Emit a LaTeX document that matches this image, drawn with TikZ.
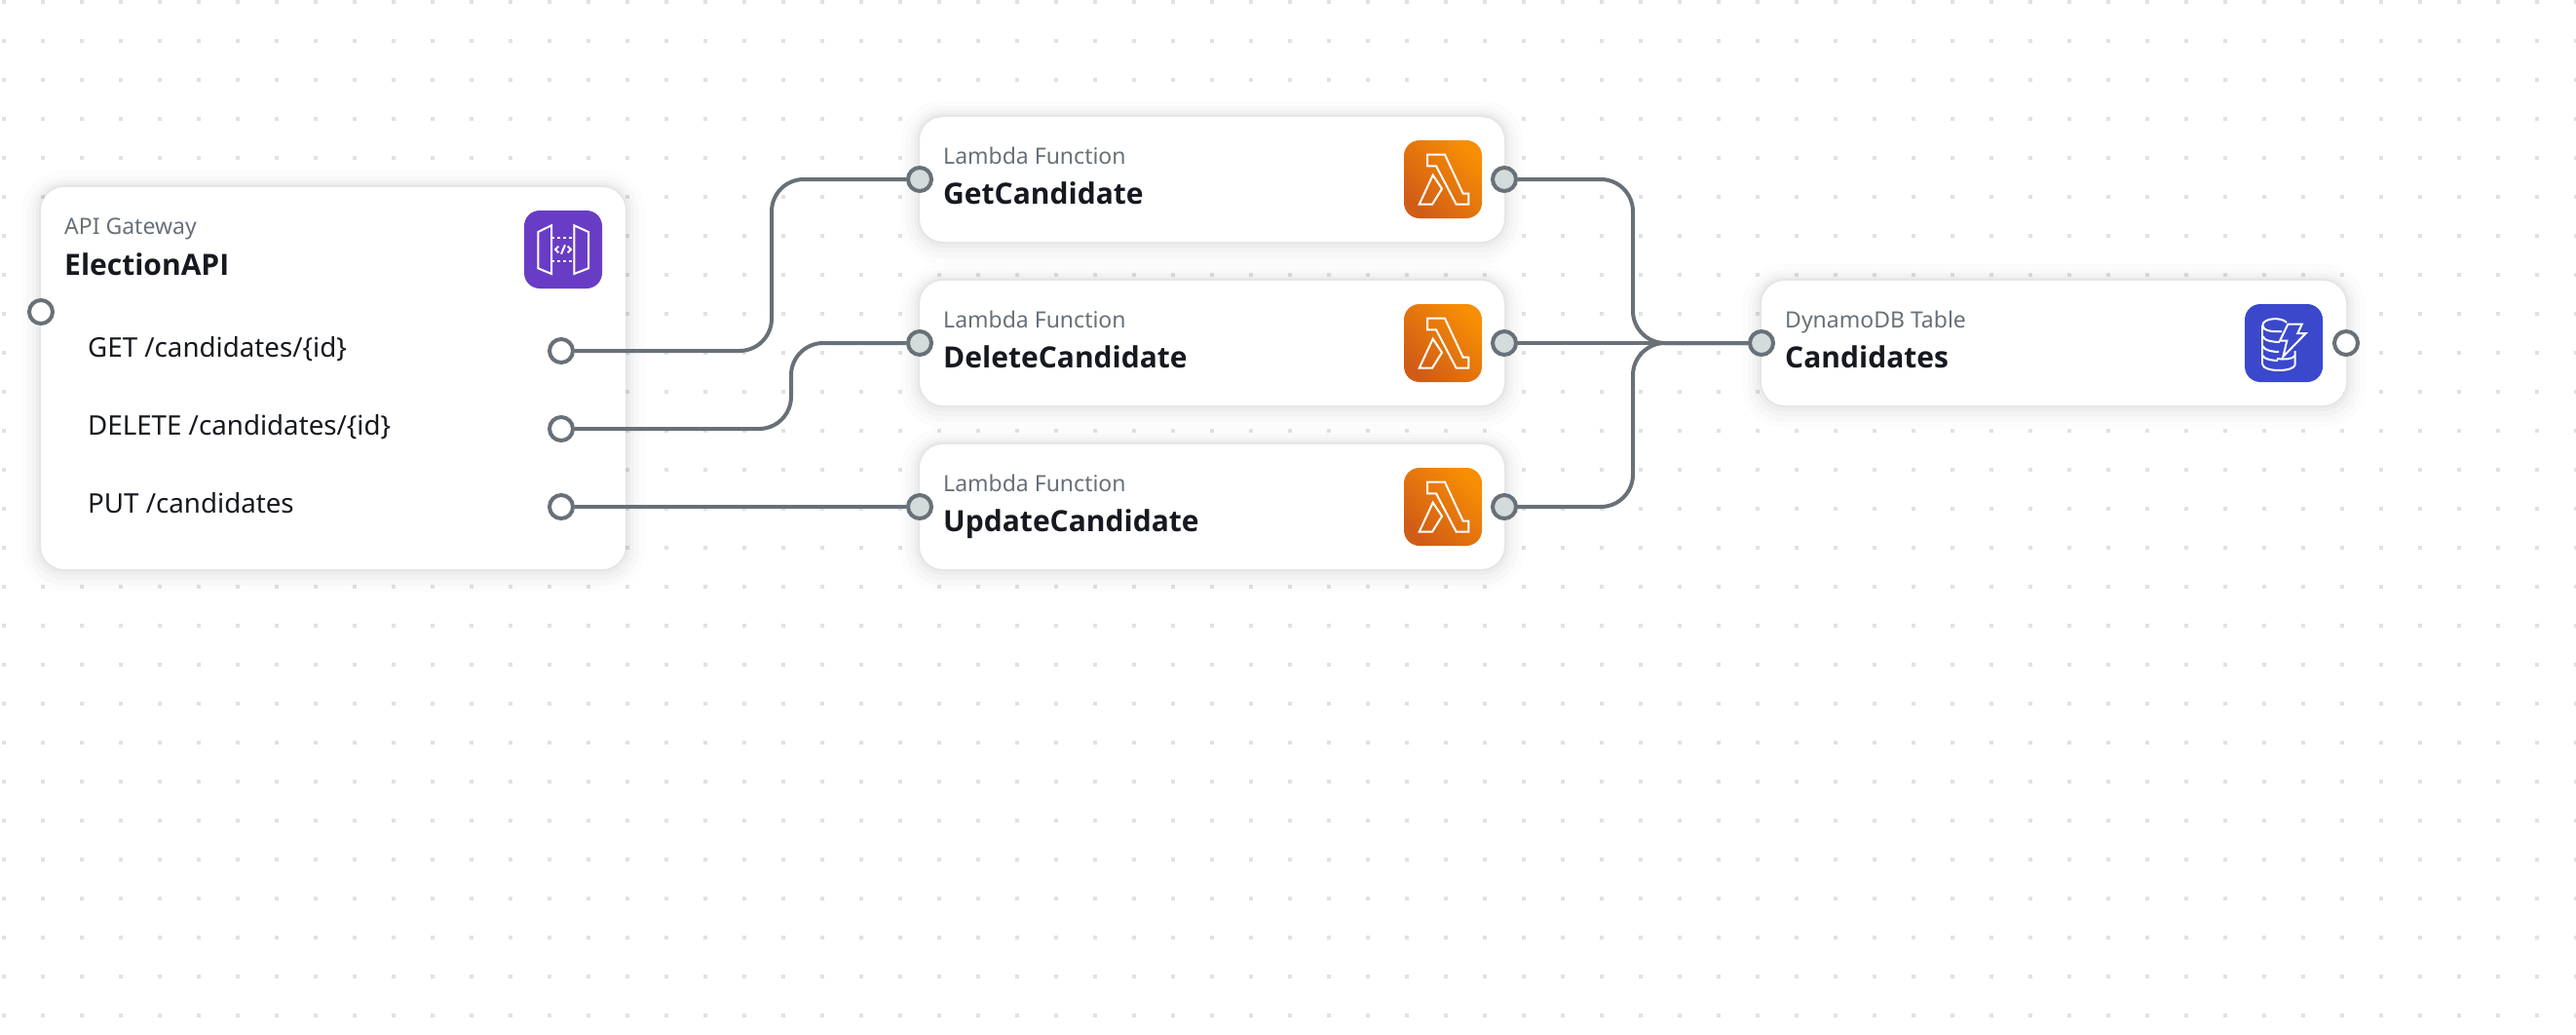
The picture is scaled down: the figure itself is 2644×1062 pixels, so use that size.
\documentclass[tikz,border=0pt]{standalone}
\usepackage{fontspec}
\setmainfont{Noto Sans}
\newfontfamily\namefont{Open Sans}
\definecolor{griddot}{HTML}{DDE3E3}
\definecolor{wiregray}{HTML}{687078}
\definecolor{portfill}{HTML}{D3DBDB}
\definecolor{inkdark}{HTML}{16191F}
\definecolor{apipurple}{HTML}{693CC5}
\definecolor{dynablue}{HTML}{3B48CC}
\definecolor{lamdark}{HTML}{D05C17}
\definecolor{lamlight}{HTML}{F78E04}
\tikzset{
  cardbox/.style={fill=white, rounded corners=24pt, minimum height=128pt, minimum width=600pt, inner sep=0pt,
    preaction={draw=black, draw opacity=.012, line width=40pt, transform canvas={yshift=-3pt}},
    preaction={draw=black, draw opacity=.014, line width=28pt, transform canvas={yshift=-3pt}},
    preaction={draw=black, draw opacity=.018, line width=18pt, transform canvas={yshift=-2pt}},
    preaction={draw=black, draw opacity=.025, line width=10pt, transform canvas={yshift=-1pt}},
    preaction={draw=black, draw opacity=.035, line width=4pt}},
  iconbox/.style={rounded corners=16pt, minimum size=80pt, inner sep=0pt},
  lambdaicon/.style={iconbox, left color=lamdark, right color=lamlight, shading angle=135},
  portin/.style={draw=wiregray, line width=4pt, fill=portfill, circle, minimum size=24pt, inner sep=0pt},
  portfree/.style={portin, fill=white},
  wire/.style={draw=wiregray, line width=4pt},
  glyph/.style={draw=white, line width=2pt, line join=miter},
  kindtext/.style={anchor=base west, inner sep=0pt, text=wiregray, font=\fontsize{23}{28}\selectfont},
  nametext/.style={anchor=base west, inner sep=0pt, text=inkdark, font=\namefont\bfseries\fontsize{30}{36}\selectfont},
  routetext/.style={anchor=base west, inner sep=0pt, text=inkdark, font=\fontsize{27.7}{32}\selectfont},
}
\newcommand{\lambdaglyph}[1]{
\draw[glyph, shift={(#1)}] (-16,-25.3) -- (2,-25.3) -- (20.7,14.7) -- (26.3,14.7) -- (26.3,25.7) -- (13.7,25.7) -- (-7,-13.7) -- (-16,-13.7) -- cycle;
\draw[glyph, shift={(#1)}] (-10.3,-4.3) -- (-1,9.7) -- (-11,25.7) -- (-24.3,25.7) -- cycle;
}
\begin{document}
\begin{tikzpicture}[x=1pt,y=-1pt]
\useasboundingbox (0,0) rectangle (2644,1062);
\foreach \x in {4,44,...,2644}
  \foreach \y in {2,42,...,1042}
    \fill[griddot] (\x-2,\y-2) rectangle ++(4,4);

% cards
\node[cardbox, minimum height=392pt] (api) at (342,388) {};
\node[cardbox] (getfn) at (1244,184) {};
\node[cardbox] (delfn) at (1244,352) {};
\node[cardbox] (updfn) at (1244,520) {};
\node[cardbox] (table) at (2108,352) {};

% texts
\node[kindtext] (apikind) at (66,240) {API Gateway};
\node[nametext] (apiname) at (66,282) {ElectionAPI};
\node[routetext] (getroute) at (90,366) {GET /candidates/\{id\}};
\node[routetext] (delroute) at (90,446) {DELETE /candidates/\{id\}};
\node[routetext] (putroute) at (90,526) {PUT /candidates};
\node[kindtext] (getkind) at (968,168) {Lambda Function};
\node[nametext] (getname) at (968,209) {GetCandidate};
\node[kindtext] (delkind) at (968,336) {Lambda Function};
\node[nametext] (delname) at (968,377) {DeleteCandidate};
\node[kindtext] (updkind) at (968,504) {Lambda Function};
\node[nametext] (updname) at (968,545) {UpdateCandidate};
\node[kindtext] (tablekind) at (1832,336) {DynamoDB Table};
\node[nametext] (tablename) at (1832,377) {Candidates};

% icons
\node[iconbox, fill=apipurple] (apiicon) at (578,256) {};
\node[lambdaicon] (geticon) at (1481,184) {};
\node[lambdaicon] (delicon) at (1481,352) {};
\node[lambdaicon] (updicon) at (1481,520) {};
\node[iconbox, fill=dynablue] (tableicon) at (2344,352) {};

\lambdaglyph{1481,184}
\lambdaglyph{1481,352}
\lambdaglyph{1481,520}

\begin{scope}[shift={(578,256)}]
\draw[glyph] (-25.7,-18) -- (-12,-24.7) -- (-12,25) -- (-25.7,19.3) -- cycle;
\draw[glyph] (11.3,-24.7) -- (26,-18) -- (26,19.3) -- (11.3,25) -- cycle;
\draw[glyph, dash pattern=on 3pt off 3pt] (-12,-11.7) -- (11.3,-11.7);
\draw[glyph, dash pattern=on 3pt off 3pt] (-12,11.7) -- (11.3,11.7);
\draw[glyph] (-4.7,-3.3) -- (-8,0) -- (-4.7,3.3);
\draw[glyph] (2,-4.7) -- (-2,4.7);
\draw[glyph] (4.7,-3.3) -- (8,0) -- (4.7,3.3);
\end{scope}

\begin{scope}[shift={(2344,352)}]
\draw[glyph] (-21.7,-18) .. controls (-21.7,-26) and (-2,-27) .. (3,-21);
\draw[glyph] (-21.7,-18) .. controls (-21.7,-13) and (-12,-11) .. (-2,-12);
\draw[glyph] (-21.7,-18) -- (-21.7,22);
\draw[glyph] (-21.7,-7) .. controls (-20,-2) and (-10,-1) .. (-4,-1);
\draw[glyph] (-21.7,3) .. controls (-20,8) and (-10,9) .. (-5,9);
\draw[glyph] (-21.7,13) .. controls (-20,17) and (-10,18) .. (-6,18);
\draw[glyph] (-21.7,22) .. controls (-21,30) and (11,30) .. (11.7,22) -- (11.7,8);
\draw[glyph] (-7,16) .. controls (0,17) and (8,17) .. (11.7,13);
\draw[glyph] (4.3,-19.3) -- (18.7,-19.3) -- (14.3,-10) -- (22.7,-10) -- (-0.7,14) -- (3.3,-2.3) -- (-4,-2.3) -- cycle;
\end{scope}

% ports
\node[portfree] (apiin) at (42,320) {};
\node[portfree] (getout) at (576,360) {};
\node[portfree] (delout) at (576,440) {};
\node[portfree] (putout) at (576,520) {};
\node[portin] (getin) at (944,184) {};
\node[portin] (delin) at (944,352) {};
\node[portin] (updin) at (944,520) {};
\node[portin] (getres) at (1544,184) {};
\node[portin] (delres) at (1544,352) {};
\node[portin] (updres) at (1544,520) {};
\node[portin] (tablein) at (1808,352) {};
\node[portfree] (tableout) at (2408,352) {};

\coordinate (getbend) at (792,184);
\coordinate (delbend) at (812,352);
\coordinate (merge) at (1676,352);

\path[draw,wire,rounded corners=33pt] (getout) -| (getbend) -- (getin);
\path[draw,wire,rounded corners=33pt] (delout) -| (delbend) -- (delin);
\path[draw,wire] (putout) -- (updin);
\path[draw,wire,rounded corners=33pt] (getres) -| (merge) -- (tablein);
\path[draw,wire] (delres) -- (tablein);
\path[draw,wire,rounded corners=33pt] (updres) -| (merge) -- (tablein);
\end{tikzpicture}
\end{document}
